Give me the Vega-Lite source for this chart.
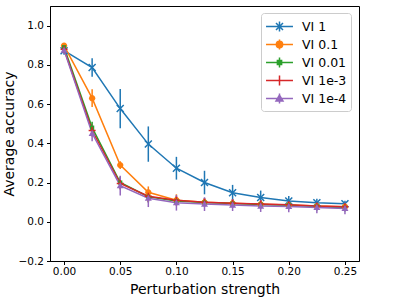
{
  "$schema": "https://vega.github.io/schema/vega-lite/v6.json",
  "width": 309,
  "height": 255,
  "autosize": {"type": "none"},
  "padding": {"left": 50, "top": 6, "right": 40, "bottom": 37},
  "background": "white",
  "config": {
    "view": {"stroke": "black", "strokeWidth": 1},
    "axis": {
      "grid": false,
      "domainColor": "black",
      "tickColor": "black",
      "tickSize": 3.5,
      "labelColor": "black",
      "titleColor": "black",
      "labelFont": "DejaVu Sans",
      "titleFont": "DejaVu Sans",
      "labelFontSize": 10.5,
      "titleFontSize": 14,
      "titleFontWeight": "normal"
    },
    "legend": {
      "labelFont": "DejaVu Sans",
      "labelFontSize": 12.5,
      "labelColor": "black"
    }
  },
  "data": {
    "values": [
      {"s": "VI 1", "x": 0, "y": 0.872, "lo": 0.852, "hi": 0.892},
      {"s": "VI 1", "x": 0.025, "y": 0.786, "lo": 0.739, "hi": 0.833},
      {"s": "VI 1", "x": 0.05, "y": 0.577, "lo": 0.477, "hi": 0.677},
      {"s": "VI 1", "x": 0.075, "y": 0.396, "lo": 0.306, "hi": 0.486},
      {"s": "VI 1", "x": 0.1, "y": 0.273, "lo": 0.215, "hi": 0.331},
      {"s": "VI 1", "x": 0.125, "y": 0.2, "lo": 0.14, "hi": 0.26},
      {"s": "VI 1", "x": 0.15, "y": 0.148, "lo": 0.108, "hi": 0.188},
      {"s": "VI 1", "x": 0.175, "y": 0.124, "lo": 0.089, "hi": 0.159},
      {"s": "VI 1", "x": 0.2, "y": 0.106, "lo": 0.081, "hi": 0.131},
      {"s": "VI 1", "x": 0.225, "y": 0.097, "lo": 0.077, "hi": 0.117},
      {"s": "VI 1", "x": 0.25, "y": 0.092, "lo": 0.077, "hi": 0.107},
      {"s": "VI 0.1", "x": 0, "y": 0.898, "lo": 0.888, "hi": 0.908},
      {"s": "VI 0.1", "x": 0.025, "y": 0.63, "lo": 0.585, "hi": 0.675},
      {"s": "VI 0.1", "x": 0.05, "y": 0.289, "lo": 0.269, "hi": 0.309},
      {"s": "VI 0.1", "x": 0.075, "y": 0.15, "lo": 0.12, "hi": 0.18},
      {"s": "VI 0.1", "x": 0.1, "y": 0.11, "lo": 0.08, "hi": 0.14},
      {"s": "VI 0.1", "x": 0.125, "y": 0.099, "lo": 0.079, "hi": 0.119},
      {"s": "VI 0.1", "x": 0.15, "y": 0.094, "lo": 0.074, "hi": 0.114},
      {"s": "VI 0.1", "x": 0.175, "y": 0.089, "lo": 0.069, "hi": 0.109},
      {"s": "VI 0.1", "x": 0.2, "y": 0.085, "lo": 0.065, "hi": 0.105},
      {"s": "VI 0.1", "x": 0.225, "y": 0.08, "lo": 0.065, "hi": 0.095},
      {"s": "VI 0.1", "x": 0.25, "y": 0.077, "lo": 0.062, "hi": 0.092},
      {"s": "VI 0.01", "x": 0, "y": 0.89, "lo": 0.88, "hi": 0.9},
      {"s": "VI 0.01", "x": 0.025, "y": 0.48, "lo": 0.45, "hi": 0.51},
      {"s": "VI 0.01", "x": 0.05, "y": 0.2, "lo": 0.17, "hi": 0.23},
      {"s": "VI 0.01", "x": 0.075, "y": 0.128, "lo": 0.098, "hi": 0.158},
      {"s": "VI 0.01", "x": 0.1, "y": 0.106, "lo": 0.086, "hi": 0.126},
      {"s": "VI 0.01", "x": 0.125, "y": 0.098, "lo": 0.078, "hi": 0.118},
      {"s": "VI 0.01", "x": 0.15, "y": 0.093, "lo": 0.073, "hi": 0.113},
      {"s": "VI 0.01", "x": 0.175, "y": 0.088, "lo": 0.068, "hi": 0.108},
      {"s": "VI 0.01", "x": 0.2, "y": 0.084, "lo": 0.064, "hi": 0.104},
      {"s": "VI 0.01", "x": 0.225, "y": 0.078, "lo": 0.058, "hi": 0.098},
      {"s": "VI 0.01", "x": 0.25, "y": 0.072, "lo": 0.052, "hi": 0.092},
      {"s": "VI 1e-3", "x": 0, "y": 0.88, "lo": 0.87, "hi": 0.89},
      {"s": "VI 1e-3", "x": 0.025, "y": 0.465, "lo": 0.435, "hi": 0.495},
      {"s": "VI 1e-3", "x": 0.05, "y": 0.195, "lo": 0.165, "hi": 0.225},
      {"s": "VI 1e-3", "x": 0.075, "y": 0.13, "lo": 0.1, "hi": 0.16},
      {"s": "VI 1e-3", "x": 0.1, "y": 0.11, "lo": 0.09, "hi": 0.13},
      {"s": "VI 1e-3", "x": 0.125, "y": 0.1, "lo": 0.08, "hi": 0.12},
      {"s": "VI 1e-3", "x": 0.15, "y": 0.095, "lo": 0.075, "hi": 0.115},
      {"s": "VI 1e-3", "x": 0.175, "y": 0.09, "lo": 0.07, "hi": 0.11},
      {"s": "VI 1e-3", "x": 0.2, "y": 0.087, "lo": 0.067, "hi": 0.107},
      {"s": "VI 1e-3", "x": 0.225, "y": 0.08, "lo": 0.06, "hi": 0.1},
      {"s": "VI 1e-3", "x": 0.25, "y": 0.077, "lo": 0.057, "hi": 0.097},
      {"s": "VI 1e-4", "x": 0, "y": 0.875, "lo": 0.855, "hi": 0.895},
      {"s": "VI 1e-4", "x": 0.025, "y": 0.451, "lo": 0.411, "hi": 0.491},
      {"s": "VI 1e-4", "x": 0.05, "y": 0.184, "lo": 0.134, "hi": 0.234},
      {"s": "VI 1e-4", "x": 0.075, "y": 0.12, "lo": 0.075, "hi": 0.165},
      {"s": "VI 1e-4", "x": 0.1, "y": 0.097, "lo": 0.057, "hi": 0.137},
      {"s": "VI 1e-4", "x": 0.125, "y": 0.09, "lo": 0.055, "hi": 0.125},
      {"s": "VI 1e-4", "x": 0.15, "y": 0.085, "lo": 0.055, "hi": 0.115},
      {"s": "VI 1e-4", "x": 0.175, "y": 0.08, "lo": 0.05, "hi": 0.11},
      {"s": "VI 1e-4", "x": 0.2, "y": 0.078, "lo": 0.048, "hi": 0.108},
      {"s": "VI 1e-4", "x": 0.225, "y": 0.073, "lo": 0.043, "hi": 0.103},
      {"s": "VI 1e-4", "x": 0.25, "y": 0.068, "lo": 0.038, "hi": 0.098}
    ]
  },
  "encoding": {
    "x": {
      "field": "x", "type": "quantitative",
      "scale": {"domain": [-0.0125, 0.2625], "nice": false, "zero": false},
      "axis": {"values": [0, 0.05, 0.1, 0.15, 0.2, 0.25], "format": ".2f", "title": "Perturbation strength", "labelPadding": 2, "titlePadding": 5}
    },
    "y": {
      "field": "y", "type": "quantitative",
      "scale": {"domain": [-0.2, 1.1], "nice": false, "zero": false},
      "axis": {"values": [-0.2, 0, 0.2, 0.4, 0.6, 0.8, 1.0], "format": ".1f", "title": "Average accuracy", "labelPadding": 3, "titlePadding": 2}
    },
    "color": {
      "field": "s", "type": "nominal",
      "scale": {"domain": ["VI 1", "VI 0.1", "VI 0.01", "VI 1e-3", "VI 1e-4"], "range": ["#1f77b4", "#ff7f0e", "#2ca02c", "#d62728", "#9467bd"]},
      "legend": {
        "title": null,
        "orient": "none",
        "legendX": 211,
        "legendY": 7,
        "symbolSize": 306,
        "symbolOffset": 5,
        "labelOffset": 13,
        "rowPadding": 0,
        "padding": 4,
        "strokeColor": "#cccccc",
        "fillColor": "rgba(255,255,255,0.8)",
        "cornerRadius": 3,
        "labelLimit": 200,
        "symbolType": "circle",
        "encode": {
          "symbols": {
            "update": {
              "shape": {"signal": "datum.value == 'VI 1' ? 'M-1.54,0L1.54,0M0,-0.57L0,0.57M-0.4,-0.4L0.4,0.4M-0.4,0.4L0.4,-0.4' : datum.value == 'VI 0.1' ? 'M-1.54,0L1.54,0M0,-0.57L0,0.57M0.36,0A0.36,0.36 0 1,1 -0.36,0A0.36,0.36 0 1,1 0.36,0Z' : datum.value == 'VI 0.01' ? 'M-1.54,0L1.54,0M0,-0.57L0,0.57M-0.24,-0.24L0.24,-0.24L0.24,0.24L-0.24,0.24Z' : datum.value == 'VI 1e-3' ? 'M-1.54,0L1.54,0M0,-0.57L0,0.57' : 'M-1.54,0L1.54,0M0,-0.57L0,0.57M0,-0.4L0.4,0.3L-0.4,0.3Z'"},
              "fill": {"scale": "color", "field": "value"},
              "stroke": {"scale": "color", "field": "value"},
              "strokeWidth": {"value": 1.5},
              "opacity": {"value": 1},
              "fillOpacity": {"value": 1}
            }
          }
        }
      }
    }
  },
  "layer": [
    {
      "mark": {"type": "rule", "strokeWidth": 1.5},
      "encoding": {
        "y": {"field": "lo", "type": "quantitative"},
        "y2": {"field": "hi"}
      }
    },
    {
      "mark": {"type": "line", "strokeWidth": 1.5}
    },
    {
      "transform": [{"filter": "datum.s == 'VI 1'"}],
      "mark": {"type": "point", "filled": false, "opacity": 1, "strokeWidth": 1.5, "size": 49, "shape": "M-1,-1L1,1M-1,1L1,-1"}
    },
    {
      "transform": [{"filter": "datum.s == 'VI 0.1'"}],
      "mark": {"type": "point", "filled": true, "opacity": 1, "size": 49, "shape": "M0.9,0A0.9,0.9 0 1,1 -0.9,0A0.9,0.9 0 1,1 0.9,0Z"}
    },
    {
      "transform": [{"filter": "datum.s == 'VI 0.01'"}],
      "mark": {"type": "point", "filled": true, "opacity": 1, "size": 49, "shape": "M-0.6,-0.6L0.6,-0.6L0.6,0.6L-0.6,0.6Z"}
    },
    {
      "transform": [{"filter": "datum.s == 'VI 1e-3'"}],
      "mark": {"type": "point", "filled": false, "opacity": 1, "strokeWidth": 1.5, "size": 49, "shape": "M-1,0L1,0M0,-1L0,1"}
    },
    {
      "transform": [{"filter": "datum.s == 'VI 1e-4'"}],
      "mark": {"type": "point", "filled": true, "opacity": 1, "size": 49, "shape": "M0,-1L1,0.75L-1,0.75Z"}
    }
  ]
}
